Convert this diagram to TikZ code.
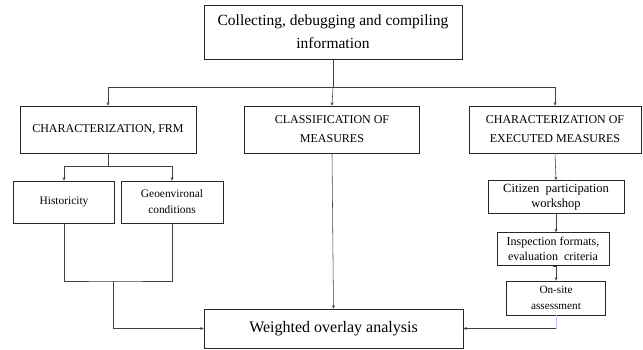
\documentclass[tikz,border=0pt]{standalone}
\usepackage{fontspec}
\setmainfont{Liberation Serif}
\usetikzlibrary{arrows.meta,calc}

\begin{document}
\begin{tikzpicture}[x=1pt,y=-1pt,
  box/.style={draw=black!85,line width=0.6pt,fill=white,align=center,inner sep=0pt},
  link/.style={draw=black!75,line width=0.55pt},
  arr/.style={link,-{Stealth[length=3.5pt,width=3pt]}}]
\useasboundingbox (0,0) rectangle (643,350);

\node[box,minimum width=258,minimum height=54,font=\fontsize{15.5}{23}\selectfont] (info) at (333,32)
  {Collecting, debugging and compiling\\information};

\node[box,minimum width=176,minimum height=47,font=\fontsize{12}{19}\selectfont] (frm) at (108,129.5)
  {CHARACTERIZATION, FRM};
\node[box,minimum width=175,minimum height=47,font=\fontsize{12}{19}\selectfont] (cls) at (332,129.5)
  {CLASSIFICATION OF\\MEASURES};
\node[box,minimum width=172,minimum height=47,font=\fontsize{12}{19}\selectfont] (exe) at (555,129.5)
  {CHARACTERIZATION OF\\EXECUTED MEASURES};

\node[box,minimum width=101,minimum height=42,font=\fontsize{11.4}{15}\selectfont] (hist) at (64,202)
  {Historicity};
\node[box,minimum width=102,minimum height=42,font=\fontsize{11.4}{16}\selectfont] (geo) at (172,202)
  {Geoenvironal\\conditions};

\node[box,minimum width=136,minimum height=33,font=\fontsize{12.5}{15}\selectfont] (cit) at (556,197)
  {Citizen\ \ participation\\workshop};
\node[box,minimum width=112,minimum height=33,font=\fontsize{12}{15}\selectfont] (insp) at (553,249)
  {Inspection formats,\\evaluation\ \ criteria};
\node[box,minimum width=99,minimum height=34,font=\fontsize{11.2}{16}\selectfont] (site) at (556,298)
  {On-site\\assessment};

\node[box,minimum width=259,minimum height=39,font=\fontsize{16}{19}\selectfont] (woa) at (333.5,328.5)
  {Weighted overlay analysis};

% top level
\coordinate (bus) at (333,87);
\draw[link] (info.south) -- (bus);
\draw[arr] (bus) -| (frm.north);
\draw[arr] (bus) -- (cls.north);
\draw[arr] (bus) -| (exe.north);

% left branch
\coordinate (split) at (108,166);
\draw[link] (frm.south) -- (split);
\draw[arr] (split) -| (hist.north);
\draw[arr] (split) -| (geo.north);
\coordinate (join) at (113,281);
\draw[link] (hist.south) |- (join) -| (geo.south);
\draw[arr] (join) |- (woa.west);

% middle
\draw[arr] (cls.south) -- (woa.north);

% right branch
\draw[arr] (exe.south) -- (cit.north);
\draw[arr] (cit.south) -- (cit.south |- insp.north);
\draw[arr] (insp.south) -- (insp.south -| site.north) -- (site.north);
\draw[link,draw=blue!25] (site.south) -- (site.south |- woa.east);
\draw[arr] (site.south |- woa.east) -- (woa.east);
\end{tikzpicture}
\end{document}
